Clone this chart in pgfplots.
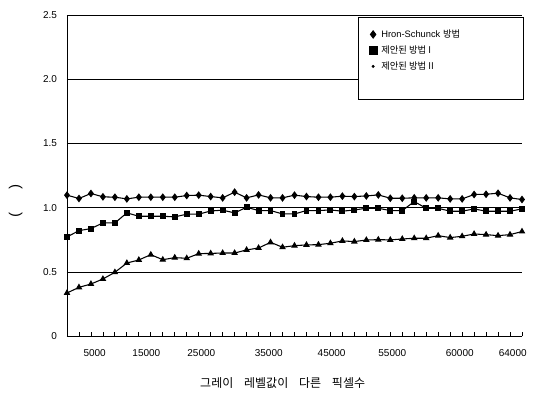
\documentclass[border=0pt]{standalone}
\usepackage{fontspec}
\setmainfont{Liberation Sans}
\newfontfamily\kr{Noto Sans CJK KR}
\usepackage{pgfplots}
\pgfplotsset{compat=1.18}
\usepackage{pgfplotstable}

\pgfplotstableread{
i d s t
0 1.099 0.774 0.338
1 1.073 0.823 0.382
2 1.112 0.839 0.408
3 1.086 0.883 0.447
4 1.083 0.883 0.499
5 1.070 0.961 0.571
6 1.083 0.935 0.595
7 1.083 0.935 0.636
8 1.083 0.935 0.597
9 1.083 0.930 0.613
10 1.096 0.951 0.608
11 1.099 0.951 0.644
12 1.088 0.976 0.646
13 1.078 0.982 0.649
14 1.122 0.961 0.649
15 1.078 1.005 0.673
16 1.101 0.979 0.688
17 1.078 0.979 0.732
18 1.078 0.953 0.694
19 1.099 0.953 0.706
20 1.088 0.979 0.712
21 1.083 0.979 0.714
22 1.083 0.984 0.725
23 1.091 0.974 0.743
24 1.088 0.984 0.738
25 1.093 0.997 0.750
26 1.101 0.997 0.753
27 1.075 0.979 0.751
28 1.075 0.979 0.758
29 1.078 1.049 0.764
30 1.078 0.997 0.764
31 1.078 0.997 0.784
32 1.070 0.974 0.769
33 1.070 0.974 0.779
34 1.104 0.992 0.797
35 1.106 0.974 0.792
36 1.114 0.974 0.784
37 1.078 0.974 0.792
38 1.065 0.992 0.816
}\data

\begin{document}
\begin{tikzpicture}
\useasboundingbox (-50.25pt,-55.9pt) rectangle (349.5pt,252.35pt);
\begin{axis}[
  scale only axis, width=341.25pt, height=241.1pt,
  xmin=0, xmax=38, ymin=0, ymax=2.5,
  axis x line=bottom, axis y line=left,
  axis line style={-, black, line width=0.7pt},
  xtick={2.31,6.63,11.22,16.85,22.1,27.17,32.8,37.23},
  xticklabels={5000,15000,25000,35000,45000,55000,60000,64000},
  major x tick style={draw=none},
  xticklabel style={yshift=-6.5pt},
  minor xtick={1,...,38},
  tick align=inside, minor tick length=3pt,
  minor x tick style={draw=black, line width=0.6pt},
  ytick={0,0.5,1,1.5,2,2.5},
  yticklabels={0,0.5,1.0,1.5,2.0,2.5},
  major y tick style={draw=none},
  yticklabel style={xshift=-4pt},
  ticklabel style={font=\fontsize{7.5}{9}\selectfont},
  ymajorgrids, major grid style={black, line width=0.6pt},
  xlabel={\kr 그레이\hspace{0.9em}레벨값이\hspace{0.9em}다른\hspace{0.9em}픽셀수},
  xlabel style={at={(axis description cs:0.474,0)}, anchor=center, yshift=-34.9pt, font=\fontsize{9}{10}\selectfont},
  ylabel={(\hspace{17pt})},
  ylabel style={at={(axis description cs:-0.1128,0.4215)}, rotate=180, anchor=center, font=\fontsize{11}{12}\selectfont},
  legend cell align=left,
  legend style={at={(rel axis cs:1.0037,0.9947)}, anchor=north east, draw=black, line width=0.6pt,
    font=\fontsize{7}{8}\selectfont, inner xsep=2.5pt, inner ysep=7pt, column sep=3pt, row sep=0pt,
    nodes={minimum height=12pt, inner sep=0pt}},
]
\addplot[black, line width=0.8pt, mark=diamond*, mark size=2.3pt, forget plot] table[x=i,y=d]{\data};
\addplot[black, line width=0.8pt, mark=square*, mark size=1.8pt, forget plot] table[x=i,y=s]{\data};
\addplot[black, line width=0.8pt, mark=triangle*, mark size=2.1pt, forget plot] table[x=i,y=t]{\data};
\addlegendimage{only marks, black, mark=diamond*, mark size=2.8pt}
\addlegendentry{\makebox[104pt][l]{Hron-Schunck {\kr 방법}}}
\addlegendimage{only marks, black, mark=square*, mark size=3.1pt}
\addlegendentry{{\kr 제안된 방법 I}}
\addlegendimage{only marks, black, mark=*, mark size=0.8pt}
\addlegendentry{{\kr 제안된 방법 II}}
\addlegendimage{empty legend}
\addlegendentry{}
\end{axis}
\end{tikzpicture}
\end{document}
